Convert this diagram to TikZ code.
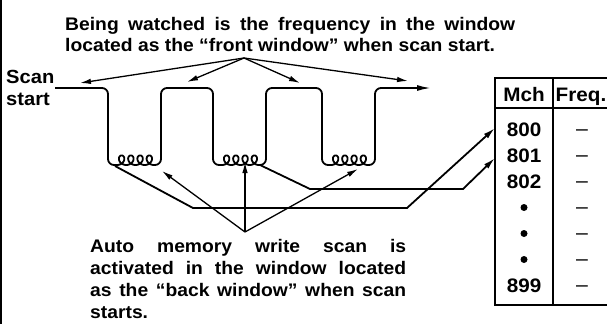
\documentclass[tikz,border=0pt]{standalone}
\usepackage{fontspec}
\usetikzlibrary{arrows.meta}
\newfontfamily\lab{Liberation Sans}[FakeStretch=1.06]
\newcommand{\mycoil}[2]{\draw[wave] plot[domain=0:25.1327, samples=240, variable=\t] ({#1 + 1.47*\t + 4.8*sin(\t r)}, {#2 - 4.8*(1-cos(\t r))});}
\begin{document}
\begin{tikzpicture}[x=1pt,y=-1pt,
  wave/.style={line width=1.8pt, line join=round},
  conn/.style={line width=1.8pt, line join=miter},
  arr/.style={line width=1.3pt, -{Latex[length=11pt,width=5.5pt]}},
  txt/.style={inner sep=0pt, anchor=base west, font=\lab\bfseries\fontsize{18.2}{20}\selectfont},
  tab/.style={inner sep=0pt, anchor=base, font=\lab\bfseries\fontsize{19.5}{22}\selectfont},
  dashtxt/.style={inner sep=0pt, anchor=base, font=\lab\fontsize{20}{22}\selectfont},
  tline/.style={line width=1.6pt},
]
\useasboundingbox (0,0) rectangle (607,324);
% left border
\draw[line width=1.5pt] (1.2,0) -- (1.2,324);

% top text
\node[txt] (t1) at (65,30) {\makebox[450pt][s]{Being watched is the frequency in the window}};
\node[txt] (t2) at (65,51) {located as the “front window” when scan start.};

% scan start label
\node[txt, font=\lab\bfseries\fontsize{19}{22}\selectfont] (s1) at (6,83) {Scan};
\node[txt, font=\lab\bfseries\fontsize{19}{22}\selectfont] (s2) at (6,105) {start};

% waveform
\draw[wave, rounded corners=6pt] (55,88) -- (108,88) -- (108,165) -- (117,165);
\mycoil{117}{165}
\draw[wave, rounded corners=6pt] (154,165) -- (161,165) -- (161,88) -- (213,88) -- (213,165) -- (222,165);
\mycoil{222}{165}
\draw[wave, rounded corners=6pt] (259,165) -- (266,165) -- (266,88) -- (322,88) -- (322,165) -- (331,165);
\mycoil{331}{165}
\draw[wave, rounded corners=6pt, -{Latex[length=14pt,width=6pt]}] (368,165) -- (375,165) -- (375,88) -- (431,88);

% top arrows
\coordinate (ts) at (244,58);
\coordinate (ta1) at (80,83);
\coordinate (ta2) at (187,82);
\coordinate (ta3) at (300,83);
\coordinate (ta4) at (408,81);
\foreach \c in {ta1,ta2,ta3,ta4} \draw[arr] (ts) -- (\c);

% bottom arrows
\coordinate (bs) at (245,232);
\coordinate (ba1) at (162,171);
\coordinate (ba2) at (245,162);
\coordinate (ba3) at (358,169);
\foreach \c in {ba1,ba2,ba3} \draw[arr] (bs) -- (\c);

% table
\draw[tline] (607,78) -- (495,78) -- (495,305) -- (607,305);
\draw[tline] (495,108) -- (607,108);
\draw[tline] (553,78) -- (553,305);
\node[tab] (mch) at (524,101.5) {Mch};
\node[tab, anchor=base west] (freq) at (555.5,101.5) {Freq.};
\foreach \lbl/\yy/\nm in {800/129.5/r0, 801/155.5/r1, 802/181.5/r2, 899/285.5/r6}
  \node[tab] (\nm) at (524,{\yy+7}) {\lbl};
\foreach \yy/\nm in {207.5/r3, 233.5/r4, 259.5/r5}
  \node[circle, fill, inner sep=0pt, minimum size=7pt] (\nm) at (524,\yy) {};
\foreach \yy/\nm in {129.5/f0, 155.5/f1, 181.5/f2, 207.5/f3, 233.5/f4, 259.5/f5, 285.5/f6}
  \node[dashtxt] (\nm) at (582,{\yy+6}) {–};

% connectors from wells to table
\coordinate (a0) at (115,166);
\coordinate (a1) at (193,208);
\coordinate (a2) at (407,208);
\coordinate (m800) at (495,128);
\draw[conn, -{Latex[length=12pt,width=6pt]}] (a0) -- (a1) -- (a2) -- (m800);
\coordinate (b0) at (260,165);
\coordinate (b1) at (310,189);
\coordinate (b2) at (463,189);
\coordinate (m801) at (495,158);
\draw[conn, -{Latex[length=12pt,width=6pt]}] (b0) -- (b1) -- (b2) -- (m801);

% bottom text
\node[txt] (u1) at (90,252) {\makebox[316pt][s]{Auto memory write scan is}};
\node[txt] (u2) at (90,274) {\makebox[316pt][s]{activated in the window located}};
\node[txt] (u3) at (90,296) {\makebox[316pt][s]{as the “back window” when scan}};
\node[txt] (u4) at (90,318) {starts.};
\end{tikzpicture}
\end{document}
